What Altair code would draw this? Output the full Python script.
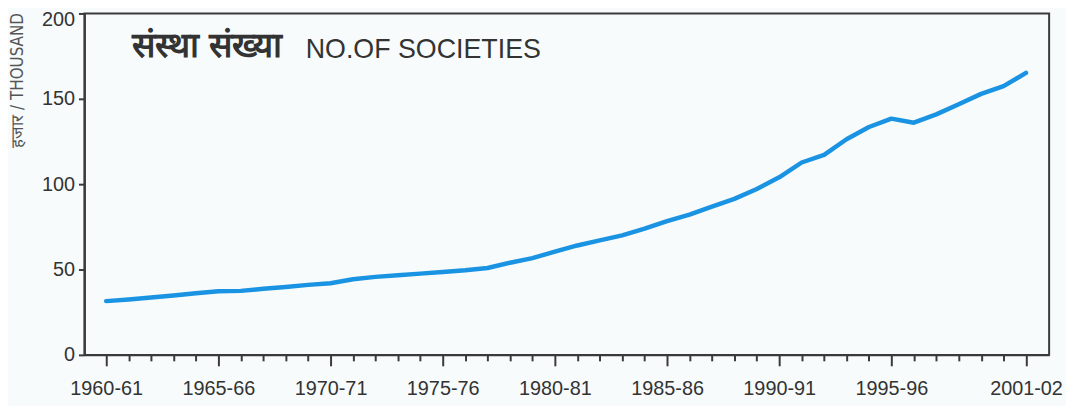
import altair as alt
import pandas as pd

# Data (thousands of societies)
years = list(range(1960, 2002))
societies = [31.5, 32.5, 33.6, 34.8, 36.1, 37.3, 37.5, 38.7, 39.8, 41.0,
             42.0, 44.3, 45.7, 46.6, 47.6, 48.6, 49.6, 50.9, 54.0, 56.7,
             60.5, 64.1, 67.1, 70.0, 73.9, 78.3, 82.2, 86.9, 91.4, 97.2,
             104.0, 112.7, 117.2, 126.3, 133.5, 138.4, 136.0, 140.9, 146.8, 152.9,
             157.4, 165.2]
label_years = [1960, 1965, 1970, 1975, 1980, 1985, 1990, 1995, 2001]
label_texts = ["1960-61", "1965-66", "1970-71", "1975-76", "1980-81",
               "1985-86", "1990-91", "1995-96", "2001-02"]
y_ticks = [0, 50, 100, 150, 200]

title_hi = "संस्था संख्या"
title_en = "NO.OF SOCIETIES"
y_title = "हजार / THOUSAND"

df = pd.DataFrame({"year": years, "value": societies})

label_expr = "''"
for yv, tx in reversed(list(zip(label_years, label_texts))):
    label_expr = f"datum.value == {yv} ? '{tx}' : ({label_expr})"
major_test = " || ".join(f"datum.value == {yv}" for yv in label_years)

FONT = "Liberation Sans"
AX = "#3a3a3a"

x_enc = alt.X(
    "year:Q",
    scale=alt.Scale(domain=[1959.03, 2002.03], nice=False, zero=False),
    axis=alt.Axis(
        values=years,
        labelExpr=label_expr,
        labelOverlap=False,
        labelFlush=False,
        tickSize={"condition": {"test": major_test, "value": 11}, "value": 6},
        tickWidth=2,
        tickColor=AX,
        domainColor=AX,
        domainWidth=2,
        grid=False,
        title=None,
        labelFont=FONT,
        labelFontSize=20,
        labelColor="#333333",
        labelPadding=13,
    ),
)

y_enc = alt.Y(
    "value:Q",
    scale=alt.Scale(domain=[0, 200], nice=False),
    axis=alt.Axis(
        values=y_ticks,
        tickSize=6,
        tickWidth=2,
        tickColor=AX,
        domainColor=AX,
        domainWidth=2,
        grid=False,
        labelFont=FONT,
        labelFontSize=20,
        labelColor="#333333",
        labelPadding=4,
        labelOffset={"condition": {"test": "datum.value == 200", "value": 6}, "value": 0},
        title=y_title,
        titleFont="DejaVu Sans Condensed",
        titleFontSize=17,
        titleFontWeight="normal",
        titleColor="#555555",
        titleAngle=-90,
        titleAlign="right",
        titleBaseline="middle",
        titleX=-67,
        titleY=-1,
    ),
)

line = alt.Chart(df).mark_line(color="#1a93e3", strokeWidth=4.5, strokeCap="round", strokeJoin="round").encode(
    x=x_enc, y=y_enc
)

t_hi = alt.Chart(pd.DataFrame({"t": [title_hi]})).mark_text(
    align="left", baseline="alphabetic", fontSize=35, fontWeight="bold", color="#333333"
).encode(x=alt.value(48), y=alt.value(44), text="t:N")

t_en = alt.Chart(pd.DataFrame({"t": [title_en]})).mark_text(
    align="left", baseline="alphabetic", fontSize=27, font=FONT, color="#333333"
).encode(x=alt.value(223), y=alt.value(44.5), text="t:N")

chart = alt.layer(line, t_hi, t_en).properties(
    width=972,
    height=344,
    autosize=alt.AutoSizeParams(type="none"),
    padding={"left": 77, "top": 4, "right": 17, "bottom": 50},
    background="#f7fbfc",
).configure_view(stroke=AX, strokeWidth=2, fill="#f7fbfc")

chart.save("out.html", embed_options={"renderer": "svg", "actions": False})
